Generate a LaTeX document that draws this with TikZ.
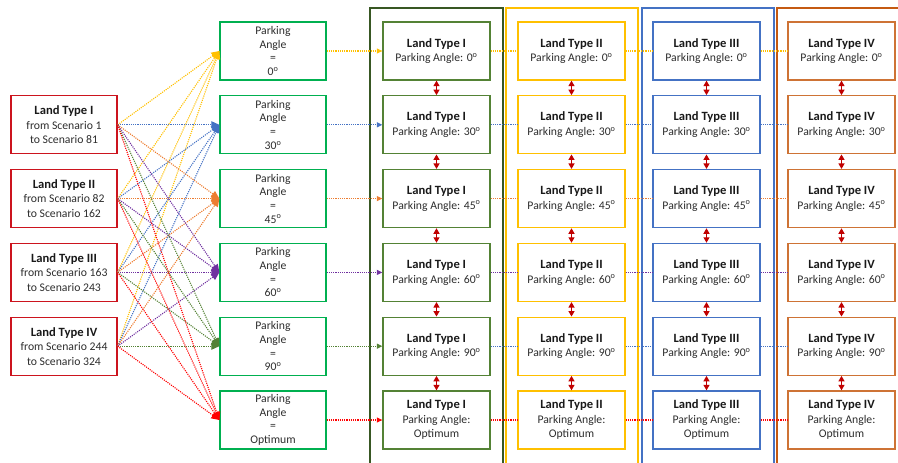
\documentclass[tikz,border=0pt]{standalone}
\usepackage{fontspec}
\setmainfont{Carlito}
\usetikzlibrary{arrows.meta}
\definecolor{landred}{RGB}{204,20,30}
\definecolor{anglegreen}{RGB}{0,176,80}
\definecolor{darkgreen}{RGB}{56,87,35}
\definecolor{midgreen}{RGB}{84,130,53}
\definecolor{gold}{RGB}{255,192,0}
\definecolor{lblue}{RGB}{68,114,196}
\definecolor{burnt}{RGB}{197,90,17}
\definecolor{lorange}{RGB}{237,125,49}
\definecolor{lpurple}{RGB}{112,48,160}
\definecolor{arrowred}{RGB}{192,0,0}
\definecolor{inktext}{RGB}{45,45,45}
\newcommand{\landtitle}[1]{{\fontsize{12.6}{14.5}\selectfont\bfseries\color{black!90}#1}}
\tikzset{
 landbox/.style={draw=landred, line width=1.3pt, minimum width=106pt, minimum height=58pt,
   inner sep=0pt, align=center, text=inktext, font=\fontsize{11.7}{14.5}\selectfont},
 anglebox/.style={landbox, draw=anglegreen, font=\fontsize{11.7}{13.7}\selectfont},
 typebox/.style={landbox, minimum width=107pt},
 groupframe/.style={line width=2.2pt},
 link/.style={line width=1.1pt, dash pattern=on 1.1pt off 1.1pt},
 fan/.style={link, -{Triangle[length=8pt,width=7pt]}},
 feed/.style={link, -{Triangle[length=5.5pt,width=5pt]}},
 updown/.style={arrowred, line width=1.2pt,
   {Triangle[length=5.5pt,width=6pt]}-{Triangle[length=5.5pt,width=6pt]}},
}

\begin{document}
\begin{tikzpicture}[x=1pt,y=-1pt]
        \clip (0,0) rectangle (898,463);
        % group frames
        \draw[groupframe, darkgreen] (370,8) rectangle (503,470);
        \draw[groupframe, gold] (506,8) rectangle (638,470);
        \draw[groupframe, lblue] (642,8) rectangle (774,470);
        \draw[groupframe, burnt] (777,8) rectangle (910,470);
        % land types
        \foreach \l/\rom/\from/\to in {1/I/1/81, 2/II/82/162, 3/III/163/243, 4/IV/244/324} {
            \node[landbox] (lt\l) at (64, 51 + 73.8*\l) {\landtitle{Land Type \rom}\\from Scenario \from\\to Scenario \to};
        }
        % parking angles
        \foreach \r/\a in {1/0, 2/30, 3/45, 4/60, 5/90} {
            \node[anglebox] (pa\r) at (273, 51 + 73.8*\r - 73.8) {Parking\\Angle\\=\\\a\textsuperscript{o}};
        }
        \node[anglebox] (pa6) at (273, 420) {Parking\\Angle\\=\\Optimum};
        % result boxes
        \foreach \k/\rom/\col in {1/I/midgreen, 2/II/gold, 3/III/lblue, 4/IV/burnt!85} {
            \foreach \r/\a in {1/0, 2/30, 3/45, 4/60, 5/90} {
                \node[typebox, draw=\col] (t\k-\r) at (301.5 + 135*\k, 51 + 73.8*\r - 73.8) {\landtitle{Land Type \rom}\\Parking Angle: \a\textsuperscript{o}};
            }
            \node[typebox, draw=\col] (t\k-6) at (301.5 + 135*\k, 420) {\landtitle{Land Type \rom}\\Parking Angle:\\Optimum};
            \foreach \r [evaluate=\r as \s using int(\r+1)] in {1,...,5} {
                \draw[updown] (t\k-\r.south) -- (t\k-\s.north);
            }
        }
        % connectors
        \foreach \r/\c/\d in {1/gold/gold, 2/lblue/lblue, 3/lorange/lorange, 4/lpurple/lpurple, 5/midgreen/lblue, 6/red/red} {
            \foreach \l in {1,...,4} {
                \draw[fan, \c] (lt\l.east) -- (pa\r.west);
            }
            \draw[feed, \c] (pa\r.east) -- (t1-\r.west);
            \foreach \k [evaluate=\k as \n using int(\k+1)] in {1,2,3} {
                \draw[link, \d] (t\k-\r.east) -- (t\n-\r.west);
            }
        }
    \end{tikzpicture}
\end{document}
